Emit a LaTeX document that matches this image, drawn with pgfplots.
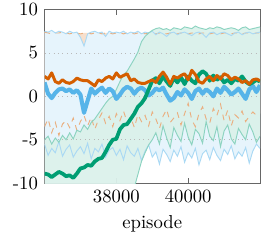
\documentclass[border=0pt]{standalone}
\usepackage{pgfplots}
\pgfplotsset{compat=1.18}
\usepackage{pgfplotstable}
\usepgfplotslibrary{fillbetween}
\definecolor{cor}{HTML}{D55E00}
\definecolor{cbl}{HTML}{56B4E9}
\definecolor{cgr}{HTML}{009E73}
\definecolor{frame}{HTML}{666666}
\pgfplotstableread{
x om ou ol bm bu bl gm gu gl
36000 2.3 7.4 -3.5 1.6 7.5 -5.5 -8.9 -5.0 -12
36100 2.0 7.3 -2.6 0.3 7.4 -6.8 -9.0 -4.6 -12
36200 2.7 7.2 -4.2 -0.2 7.6 -6.0 -9.3 -5.5 -12
36300 1.7 7.3 -3.0 0.4 7.3 -6.5 -9.0 -4.8 -12
36400 1.5 7.3 -4.5 0.8 7.5 -5.2 -8.7 -5.3 -12
36500 1.9 7.4 -3.2 0.9 7.4 -6.9 -8.9 -4.5 -12
36600 1.6 7.3 -2.8 0.6 7.2 -6.1 -9.2 -5.0 -12
36700 1.5 7.2 -3.6 0.8 7.5 -5.6 -9.1 -4.2 -12
36800 1.7 7.3 -2.5 0.4 7.3 -7.0 -9.4 -4.9 -12
36900 2.1 7.3 -3.9 0.7 7.4 -6.3 -8.9 -3.9 -12
37000 1.9 7.2 -2.9 0.2 6.8 -5.8 -8.3 -4.1 -12
37100 1.8 7.3 -2.2 -1.9 5.8 -6.6 -8.2 -3.3 -12
37200 1.8 7.3 -3.4 -0.5 7.2 -5.4 -7.9 -3.8 -12
37300 1.5 7.2 -2.4 0.9 7.4 -7.2 -8.0 -3.0 -12
37400 1.2 7.3 -3.8 0.3 7.5 -6.0 -7.5 -2.6 -12
37500 1.9 7.3 -2.7 0.7 7.3 -6.4 -7.2 -2.0 -12
37600 1.7 7.2 -1.9 1.0 7.4 -5.5 -7.1 -1.4 -12
37700 2.1 7.3 -3.1 0.4 6.9 -7.0 -6.4 -0.8 -12
37800 2.3 7.3 -2.3 0.9 7.5 -6.2 -5.6 -0.3 -12
37900 2.0 7.2 -3.5 0.6 7.3 -5.9 -5.0 0.0 -12
38000 2.7 7.3 -2.0 -0.3 7.4 -6.8 -4.9 0.8 -12
38100 2.2 7.3 -2.8 0.2 7.3 -6.1 -3.8 1.7 -12
38200 2.4 7.2 -1.7 0.8 7.5 -7.3 -3.3 2.5 -12
38300 2.6 7.3 -3.0 1.1 7.2 -5.7 -3.2 2.9 -12
38400 1.8 7.3 -2.4 0.9 7.4 -6.5 -2.6 3.6 -12
38500 2.0 7.2 -3.6 0.3 7.3 -6.9 -2.0 4.3 -10.5
38600 1.6 7.3 -2.1 0.8 7.5 -6.0 -1.2 5.1 -9.0
38700 1.5 7.3 -2.9 1.0 7.2 -7.4 -0.8 6.3 -7.5
38800 1.5 7.2 -2.2 0.7 7.4 -6.3 -0.2 6.9 -6.5
38900 1.7 7.3 -3.4 0.1 7.3 -5.6 0.8 7.3 -5.6
39000 1.9 7.3 -1.8 0.4 7.5 -7.0 1.8 7.6 -5.0
39100 1.6 7.2 -2.6 0.9 7.1 -6.4 2.1 7.8 -4.2
39200 2.3 7.3 -3.7 0.7 7.4 -7.8 1.5 7.9 -5.5
39300 2.8 7.3 -2.3 1.0 7.2 -6.1 2.3 7.7 -3.4
39400 2.2 7.2 -1.5 0.2 6.9 -6.7 1.7 7.8 -4.8
39500 1.4 7.3 -3.0 -0.5 7.3 -7.5 1.2 7.6 -5.9
39600 2.3 7.3 -2.5 -0.2 7.4 -6.2 2.1 7.9 -3.6
39700 2.1 7.2 -1.9 0.5 7.1 -6.9 1.6 7.8 -4.5
39800 2.4 7.3 -3.3 0.1 7.3 -5.8 2.2 7.7 -5.2
39900 2.6 7.3 -2.0 0.8 7.4 -7.6 1.4 8.0 -3.1
40000 1.9 7.2 -0.8 0.4 7.2 -6.5 2.3 7.9 -4.7
40100 3.0 7.3 -2.7 -0.3 7.0 -7.1 1.8 7.8 -5.6
40200 2.5 7.3 -3.5 0.6 7.3 -6.0 1.5 8.1 -3.8
40300 1.7 7.2 -2.0 0.9 7.4 -7.9 2.5 7.9 -4.3
40400 1.5 7.3 -1.2 0.3 7.2 -6.6 2.9 7.8 -5.4
40500 2.0 7.3 -2.6 0.8 6.8 -6.2 2.6 7.7 -2.9
40600 2.3 7.2 -3.1 0.5 7.3 -7.3 1.8 7.9 -4.6
40700 1.8 7.3 -1.4 0.0 7.4 -5.9 2.4 7.8 -5.1
40800 2.4 7.3 -2.2 0.9 7.1 -6.8 1.9 8.0 -3.5
40900 2.0 7.2 -0.9 0.4 7.3 -7.4 2.2 7.9 -5.8
41000 2.6 7.3 -2.8 1.1 7.4 -6.1 1.6 7.7 -4.0
41100 2.4 7.3 -1.6 0.7 7.2 -6.7 1.9 7.8 -3.3
41200 1.9 7.2 -3.4 0.2 7.0 -5.7 1.5 7.9 -4.9
41300 2.2 7.3 -2.1 0.5 7.3 -7.2 2.0 7.8 -5.5
41400 2.0 7.3 -2.5 0.9 7.4 -6.4 1.8 7.6 -3.7
41500 1.6 7.2 -1.7 0.3 7.1 -6.9 2.3 7.9 -4.4
41600 1.8 7.3 -2.9 -0.3 7.3 -5.9 1.7 8.0 -5.0
41700 1.4 7.3 -2.3 0.8 7.4 -7.7 1.4 7.7 -3.2
41800 1.9 7.2 -1.8 1.2 7.2 -6.3 1.6 7.8 -4.1
41900 2.0 7.3 -2.2 0.5 7.3 -5.5 1.9 7.9 -5.3
42000 1.8 7.3 -2.0 1.3 7.4 -6.0 1.7 8.0 -4.6
}\data
\begin{document}
\begin{tikzpicture}
\begin{axis}[
  name=ax,
  scale only axis,
  width=115.2pt, height=92.8pt,
  xmin=36000, xmax=42000,
  ymin=-10, ymax=10,
  scaled x ticks=false,
  xtick={38000,40000}, xticklabels={38000,40000},
  ytick={-10,-5,0,5,10}, yticklabels={-10,-5,0,5,10},
  axis line style={frame},
  tick style={frame},
  major tick length=3pt,
  xlabel={episode},
  clip=true,
]
% band boundaries (named paths)
\addplot[name path=ou, draw=none] table[x=x,y=ou]{\data};
\addplot[name path=ol, draw=none] table[x=x,y=ol]{\data};
\addplot[name path=bu, draw=none] table[x=x,y=bu]{\data};
\addplot[name path=bl, draw=none] table[x=x,y=bl]{\data};
\addplot[name path=gu, draw=none] table[x=x,y=gu]{\data};
\addplot[name path=gl, draw=none] table[x=x,y=gl]{\data};
% fills
\addplot[fill=cor!20, draw=none] fill between[of=ou and ol];
\addplot[fill=cbl!15, draw=none] fill between[of=bu and bl];
\addplot[fill=cgr!14, fill opacity=0.95, draw=none] fill between[of=gu and gl];
% grid
\addplot[gray!55, dotted, line width=0.4pt] coordinates {(36000,5) (42000,5)};
\addplot[gray!55, dotted, line width=0.4pt] coordinates {(36000,0) (42000,0)};
\addplot[gray!55, dotted, line width=0.4pt] coordinates {(36000,-5) (42000,-5)};
% boundary lines
\addplot[draw=cor!50, dashed, line width=0.5pt] table[x=x,y=ou]{\data};
\addplot[draw=cor!50, dashed, line width=0.5pt] table[x=x,y=ol]{\data};
\addplot[draw=cbl!50, line width=0.5pt] table[x=x,y=bu]{\data};
\addplot[draw=cbl!50, line width=0.5pt] table[x=x,y=bl]{\data};
\addplot[draw=cgr!45, line width=0.5pt] table[x=x,y=gu]{\data};
\addplot[draw=cgr!45, line width=0.5pt] table[x=x,y=gl]{\data};
% means
\addplot[cbl, line width=2.2pt, line join=round] table[x=x,y=bm]{\data};
\addplot[cgr, line width=2pt, line join=round] table[x=x,y=gm]{\data};
\addplot[cor, line width=1.6pt, line join=round] table[x=x,y=om]{\data};
\end{axis}
\pgfresetboundingbox
\path[use as bounding box] ([xshift=-23.8pt,yshift=-30.5pt]ax.south west) rectangle ([xshift=3.2pt,yshift=5.1pt]ax.north east);
\end{tikzpicture}
\end{document}
